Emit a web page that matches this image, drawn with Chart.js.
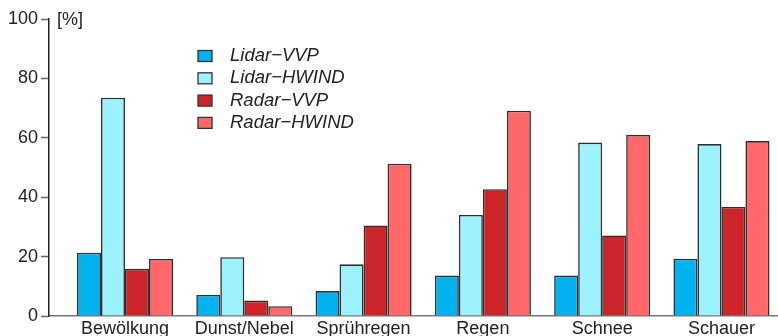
<!DOCTYPE html>
<html>
<head>
<meta charset="utf-8">
<script src="https://cdn.jsdelivr.net/npm/chart.js@4/dist/chart.umd.min.js"></script>
<style>
    html, body { margin: 0; padding: 0; background: #fff; overflow: hidden; }
    #wrap { position: relative; width: 778px; height: 345px; }
</style>
</head>
<body>
<div id="wrap"><canvas id="myChart" width="778" height="345"></canvas></div>
<script>
// categories and values (percent)
const categories = ['Bewölkung', 'Dunst/Nebel', 'Sprühregen', 'Regen', 'Schnee', 'Schauer'];
const seriesNames = ['Lidar\u2212VVP', 'Lidar\u2212HWIND', 'Radar\u2212VVP', 'Radar\u2212HWIND'];
const lidarVVP = [21.3, 7.1, 8.4, 13.6, 13.6, 19.3];
const lidarHWIND = [73.5, 19.8, 17.4, 34.0, 58.4, 57.9];
const radarVVP = [15.9, 5.2, 30.5, 42.7, 27.1, 36.7];
const radarHWIND = [19.2, 3.3, 51.3, 69.1, 61.0, 58.9];
const yTicks = [0, 20, 40, 60, 80, 100];

const colors = ['#00b2ee', '#9cf3fd', '#cc2428', '#ff6769'];
const FONT = 'Liberation Sans, Arial, sans-serif';

const toPoints = arr => arr.map((v, i) => ({ x: i, y: v }));

const datasets = [lidarVVP, lidarHWIND, radarVVP, radarHWIND].map((arr, k) => ({
    label: seriesNames[k],
    data: toPoints(arr),
    backgroundColor: colors[k],
    borderColor: '#2e2e2e',
    borderWidth: 1.6,
    categoryPercentage: 0.805,
    barPercentage: 1,
}));

// legend box and "[%]" unit label
const extras = {
    id: 'extras',
    afterDraw(chart) {
        const ctx = chart.ctx;
        ctx.save();
        ctx.font = '18px ' + FONT;
        ctx.fillStyle = '#222';
        ctx.textBaseline = 'middle';
        ctx.fillText('[%]', 57, chart.scales.y.getPixelForValue(100) + 1);

        ctx.font = 'italic 18.5px ' + FONT;
        chart.data.datasets.forEach((ds, i) => {
            const cy = 56 + i * 22.3;
            ctx.fillStyle = ds.backgroundColor;
            ctx.strokeStyle = '#333';
            ctx.lineWidth = 1.3;
            ctx.fillRect(198, cy - 5.5, 14, 11);
            ctx.strokeRect(198, cy - 5.5, 14, 11);
            ctx.fillStyle = '#222';
            ctx.fillText(ds.label, 230, cy);
        });
        ctx.restore();
    }
};

const ctx = document.getElementById('myChart').getContext('2d');
const myChart = new Chart(ctx, {
    type: 'bar',
    data: { datasets: datasets },
    options: {
        responsive: false,
        animation: false,
        devicePixelRatio: 1,
        layout: { padding: { top: 19, right: 0, left: 0, bottom: 0 } },
        plugins: {
            legend: { display: false },
            tooltip: { enabled: false },
        },
        scales: {
            x: {
                type: 'linear',
                offset: false,
                min: -0.637,
                max: 5.474,
                afterBuildTicks: scale => {
                    scale.ticks = categories.map((c, i) => ({ value: i }));
                },
                afterFit: scale => { scale.height = 29; },
                ticks: {
                    callback: v => categories[v],
                    font: { size: 18, family: FONT },
                    color: '#222',
                    padding: 2,
                    maxRotation: 0,
                    autoSkip: false,
                },
                grid: { display: false, drawTicks: false, offset: false },
                border: { display: true, color: '#777', width: 1.5 },
            },
            y: {
                min: 0,
                max: 100,
                afterBuildTicks: scale => {
                    scale.ticks = yTicks.map(v => ({ value: v }));
                },
                afterFit: scale => { scale.width = 49; },
                ticks: {
                    font: { size: 18, family: FONT },
                    color: '#222',
                    padding: 3,
                },
                grid: {
                    display: true,
                    drawOnChartArea: false,
                    tickLength: 8,
                    tickWidth: 1.5,
                    tickColor: '#666',
                },
                border: { display: true, color: '#222', width: 1.5 },
            },
        },
    },
    plugins: [extras],
});
</script>
</body>
</html>
